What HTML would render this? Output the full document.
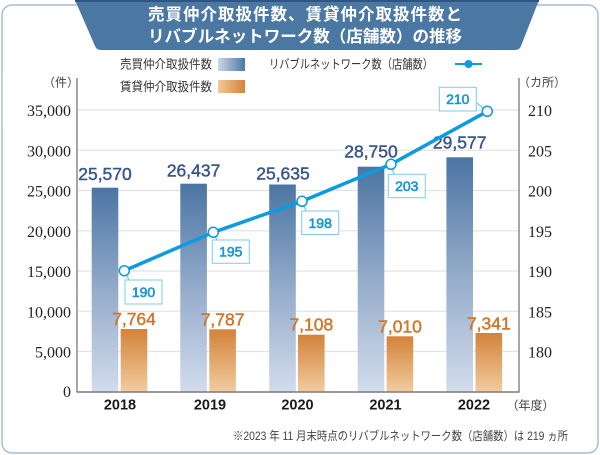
<!DOCTYPE html>
<html><head><meta charset="utf-8">
<style>
html,body{margin:0;padding:0;background:#fff;}
svg{display:block;}
text{font-family:"Liberation Sans","Noto Sans CJK JP",sans-serif;}
.serif{font-family:"Liberation Serif","Noto Serif CJK SC",serif;}
</style></head>
<body>
<svg width="600" height="455" viewBox="0 0 600 455" xmlns="http://www.w3.org/2000/svg">
<defs>
<linearGradient id="gb" x1="0" y1="0" x2="0" y2="1">
<stop offset="0" stop-color="#4b75a3"/>
<stop offset="0.5" stop-color="#94abca"/>
<stop offset="1" stop-color="#d2dcec"/>
</linearGradient>
<linearGradient id="go" x1="0" y1="0" x2="0" y2="1">
<stop offset="0" stop-color="#d3823a"/>
<stop offset="1" stop-color="#f2cc9f"/>
</linearGradient>
<linearGradient id="lb" x1="0" y1="0" x2="1" y2="0">
<stop offset="0" stop-color="#cbd7e8"/>
<stop offset="1" stop-color="#4d77a4"/>
</linearGradient>
<linearGradient id="lo" x1="0" y1="0" x2="1" y2="0">
<stop offset="0" stop-color="#f1c89b"/>
<stop offset="1" stop-color="#d4833b"/>
</linearGradient>
</defs>

<!-- frame -->
<rect x="2" y="5" width="596" height="448" rx="10" ry="10" fill="#fff" stroke="#a9bdd8" stroke-width="1.5"/>

<!-- banner -->
<path d="M75,0 L539,0 L521,46 Q519.5,50 515,50 L101,50 Q96.5,50 95,46 Z" fill="#4b77a3"/>
<rect x="75" y="0" width="464" height="2" fill="#2f5582"/>
<text x="148" y="20" font-size="16.5" font-weight="bold" fill="#fff" textLength="314" lengthAdjust="spacing">売買仲介取扱件数、賃貸仲介取扱件数と</text>
<text x="148" y="42" font-size="16.5" font-weight="bold" fill="#fff" textLength="314" lengthAdjust="spacing">リバブルネットワーク数（店舗数）の推移</text>

<!-- legend -->
<text x="120" y="68.5" font-size="12.5" fill="#333" textLength="92" lengthAdjust="spacingAndGlyphs">売買仲介取扱件数</text>
<rect x="218" y="58" width="27" height="13" fill="url(#lb)"/>
<text x="120" y="91" font-size="12.5" fill="#333" textLength="92" lengthAdjust="spacingAndGlyphs">賃貸仲介取扱件数</text>
<rect x="218" y="80" width="27" height="13" fill="url(#lo)"/>
<text x="269" y="68.5" font-size="12.5" fill="#333" textLength="164" lengthAdjust="spacingAndGlyphs">リバブルネットワーク数（店舗数）</text>
<line x1="455" y1="64" x2="482" y2="64" stroke="#0a9be0" stroke-width="2"/>
<circle cx="468.5" cy="64" r="4" fill="#0a9be0"/>

<!-- axis unit labels -->
<text x="61" y="86.5" font-size="12" fill="#444" text-anchor="middle">（件）</text>
<text x="542" y="86.5" font-size="12" fill="#444" text-anchor="middle">（カ所）</text>

<!-- gridlines -->
<g stroke="#e2e2e2" stroke-width="1.2">
<line x1="77" y1="110" x2="519" y2="110"/>
<line x1="77" y1="150.3" x2="519" y2="150.3"/>
<line x1="77" y1="190.5" x2="519" y2="190.5"/>
<line x1="77" y1="230.8" x2="519" y2="230.8"/>
<line x1="77" y1="271" x2="519" y2="271"/>
<line x1="77" y1="311.3" x2="519" y2="311.3"/>
<line x1="77" y1="351.5" x2="519" y2="351.5"/>
</g>

<!-- left tick labels -->
<g font-size="16" fill="#222" text-anchor="end">
<text class="serif" x="71" y="116">35,000</text>
<text class="serif" x="71" y="156.3">30,000</text>
<text class="serif" x="71" y="196.5">25,000</text>
<text class="serif" x="71" y="236.8">20,000</text>
<text class="serif" x="71" y="277">15,000</text>
<text class="serif" x="71" y="317.3">10,000</text>
<text class="serif" x="71" y="357.5">5,000</text>
<text class="serif" x="71" y="397">0</text>
</g>
<!-- right tick labels -->
<g font-size="16" fill="#222">
<text class="serif" x="528" y="116">210</text>
<text class="serif" x="528" y="156.3">205</text>
<text class="serif" x="528" y="196.5">200</text>
<text class="serif" x="528" y="236.8">195</text>
<text class="serif" x="528" y="277">190</text>
<text class="serif" x="528" y="317.3">185</text>
<text class="serif" x="528" y="357.5">180</text>
</g>

<!-- bars blue -->
<g fill="url(#gb)">
<rect x="91.7" y="187.7" width="26.6" height="204.3"/>
<rect x="180.3" y="183.7" width="26.6" height="208.3"/>
<rect x="269.2" y="184.5" width="26.6" height="207.5"/>
<rect x="357.7" y="166.7" width="26.6" height="225.3"/>
<rect x="446.4" y="157.3" width="26.6" height="234.7"/>
</g>
<!-- bars orange -->
<g fill="url(#go)">
<rect x="120.7" y="329" width="26.6" height="63"/>
<rect x="209.3" y="329.3" width="26.6" height="62.7"/>
<rect x="298" y="334.7" width="26.6" height="57.3"/>
<rect x="386.6" y="336.3" width="26.6" height="55.7"/>
<rect x="475.5" y="333" width="26.6" height="59"/>
</g>

<!-- blue value labels -->
<g font-size="17.5" fill="#38578a" stroke="#38578a" stroke-width="0.45" text-anchor="middle">
<text x="105" y="180">25,570</text>
<text x="193.6" y="176.5">26,437</text>
<text x="283" y="179.5">25,635</text>
<text x="371" y="157.5">28,750</text>
<text x="459.7" y="148.5">29,577</text>
</g>
<!-- orange value labels -->
<g font-size="17.5" fill="#d0762a" stroke="#d0762a" stroke-width="0.45" text-anchor="middle">
<text x="134" y="325">7,764</text>
<text x="222.6" y="325.3">7,787</text>
<text x="311.3" y="330.7">7,108</text>
<text x="400" y="332.5">7,010</text>
<text x="488.8" y="329.3">7,341</text>
</g>

<!-- axes -->
<line x1="77" y1="78" x2="77" y2="392" stroke="#8a8a8a" stroke-width="1.5"/>
<line x1="519" y1="78" x2="519" y2="392" stroke="#8a8a8a" stroke-width="1.5"/>
<line x1="76.5" y1="392" x2="519.5" y2="392" stroke="#7a7a7a" stroke-width="1.6"/>

<!-- connectors -->
<g stroke="#5fbde9" stroke-width="1">
<line x1="124.3" y1="270.7" x2="129" y2="280"/>
<line x1="213.3" y1="232.3" x2="217" y2="240"/>
<line x1="302" y1="201.3" x2="306" y2="211"/>
<line x1="391" y1="164.3" x2="394" y2="174.3"/>
<line x1="487.3" y1="111.3" x2="476.7" y2="103"/>
</g>

<!-- line series -->
<polyline points="124.3,270.7 213.3,232.3 302,201.3 391,164.3 487.3,111.3" fill="none" stroke="#0a9be0" stroke-width="3.5" stroke-linejoin="round"/>
<g fill="#fff" stroke="#0a9be0" stroke-width="1.5">
<circle cx="124.3" cy="270.7" r="5"/>
<circle cx="213.3" cy="232.3" r="5"/>
<circle cx="302" cy="201.3" r="5"/>
<circle cx="391" cy="164.3" r="5"/>
<circle cx="487.3" cy="111.3" r="5"/>
</g>

<!-- line value boxes -->
<g fill="#fff" stroke="#7ccbef" stroke-width="1">
<rect x="125" y="280" width="37" height="24"/>
<rect x="212.3" y="240" width="37" height="23.3"/>
<rect x="301.7" y="211" width="37" height="23.5"/>
<rect x="388.3" y="174.3" width="37" height="23.4"/>
<rect x="439.3" y="87.3" width="37" height="23.7"/>
</g>
<g font-size="14" fill="#1497d8" stroke="#1497d8" stroke-width="0.6" text-anchor="middle">
<text x="143.5" y="297">190</text>
<text x="230.8" y="256.7">195</text>
<text x="320.2" y="227.8">198</text>
<text x="406.8" y="191">203</text>
<text x="457.8" y="104.2">210</text>
</g>

<!-- year labels -->
<g font-size="14.5" font-weight="bold" fill="#1a1a1a" text-anchor="middle">
<text x="120" y="409.5">2018</text>
<text x="210" y="409.5">2019</text>
<text x="297.5" y="409.5">2020</text>
<text x="385.5" y="409.5">2021</text>
<text x="474" y="409.5">2022</text>
</g>
<text x="530.5" y="409.5" font-size="12" fill="#444" text-anchor="middle">（年度）</text>

<!-- footnote -->
<text x="233" y="440" font-size="12" fill="#444" textLength="335" lengthAdjust="spacingAndGlyphs">※2023 年 11 月末時点のリバブルネットワーク数（店舗数）は 219 ヵ所</text>
</svg>
</body></html>
